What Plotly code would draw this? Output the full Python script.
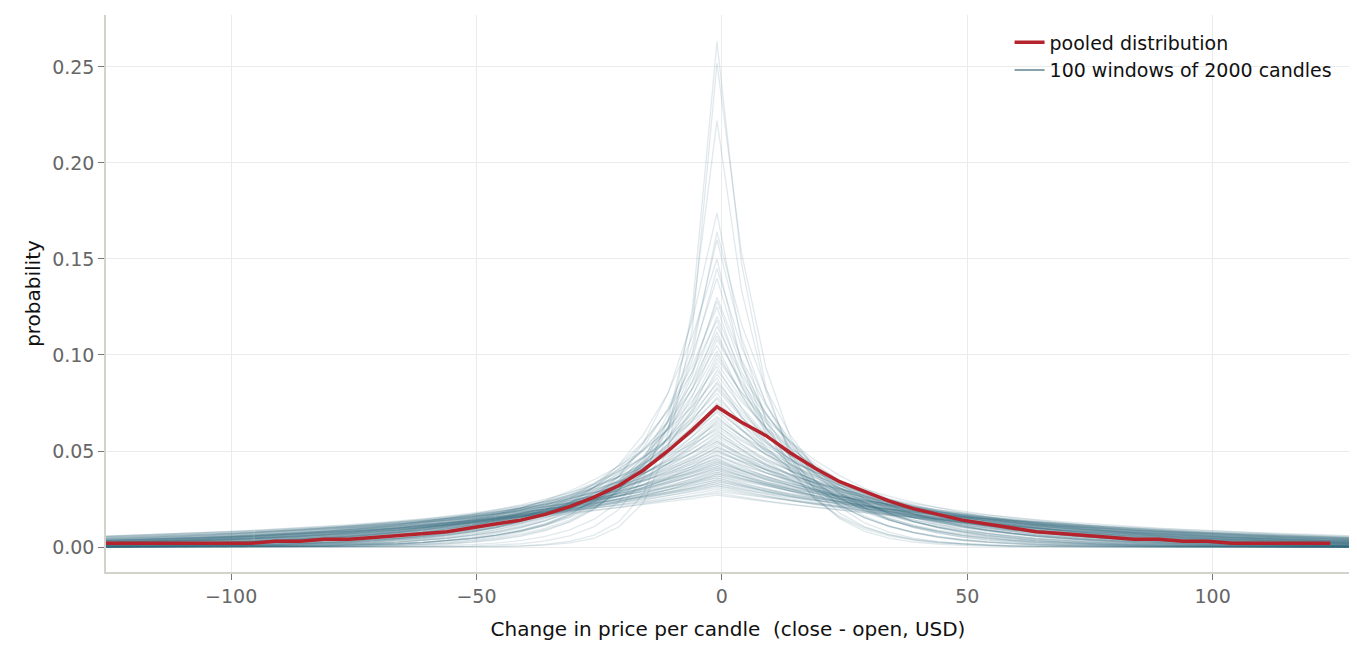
import numpy as np
import plotly.graph_objects as go

# bin centres (USD)
bins = list(range(-126, 130, 5))

# pooled distribution (one value per bin, peak at -1)
pooled = [0.002, 0.002, 0.002, 0.002, 0.002, 0.002, 0.002, 0.003, 0.003, 0.004,
          0.004, 0.005, 0.006, 0.007, 0.008, 0.010, 0.012, 0.014, 0.017, 0.021,
          0.026, 0.032, 0.040, 0.050, 0.061, 0.073, 0.065, 0.058, 0.049, 0.041,
          0.034, 0.029, 0.024, 0.020, 0.017, 0.014, 0.012, 0.010, 0.008, 0.007,
          0.006, 0.005, 0.004, 0.004, 0.003, 0.003, 0.002, 0.002, 0.002, 0.002, 0.002]

# peak height of each of the 100 windows (estimated)
window_peaks = [0.263, 0.252, 0.222, 0.174, 0.164, 0.160, 0.150, 0.145, 0.140, 0.130,
                0.128, 0.125, 0.120, 0.118, 0.115, 0.112, 0.110, 0.108, 0.105, 0.102,
                0.100, 0.098, 0.096, 0.094, 0.092, 0.090, 0.088, 0.086, 0.085, 0.083,
                0.082, 0.080, 0.078, 0.077, 0.075, 0.074, 0.072, 0.071, 0.070, 0.068,
                0.067, 0.066, 0.065, 0.064, 0.063, 0.062, 0.061, 0.060, 0.059, 0.058,
                0.057, 0.056, 0.055, 0.055, 0.054, 0.053, 0.052, 0.052, 0.051, 0.050,
                0.050, 0.049, 0.048, 0.048, 0.047, 0.046, 0.046, 0.045, 0.045, 0.044,
                0.044, 0.043, 0.043, 0.042, 0.042, 0.041, 0.041, 0.040, 0.040, 0.039,
                0.039, 0.038, 0.038, 0.037, 0.037, 0.036, 0.036, 0.035, 0.035, 0.034,
                0.034, 0.033, 0.033, 0.032, 0.032, 0.031, 0.030, 0.029, 0.028, 0.027]
# right/left width ratio of each window, estimated
window_skew = [1.3, 1.6, 1.2, 0.8, 1.4, 1.1, 0.7, 1.2, 0.9, 1.3,
               1.1, 0.8, 1.2, 0.75, 1.3, 0.9, 1.1, 1.4, 0.85, 1.0] * 5

x = np.array(bins, dtype=float)
fig = go.Figure()
for pk, sk in zip(window_peaks, window_skew):
    sc = 2.0 / pk
    d = np.abs(x + 1)
    y = pk * np.where(x < -1, np.exp(-d / (sc / np.sqrt(sk))), np.exp(-d / (sc * np.sqrt(sk))))
    fig.add_trace(go.Scatter(x=bins, y=y, mode="lines",
                             line=dict(color="rgba(55,105,125,0.15)", width=1.3),
                             showlegend=False, hoverinfo="skip"))
fig.add_trace(go.Scatter(x=[None], y=[None], mode="lines",
                         line=dict(color="#87a3ab", width=2),
                         name="100 windows of 2000 candles"))
fig.add_trace(go.Scatter(x=bins, y=pooled, mode="lines",
                         line=dict(color="#b5232d", width=3.5),
                         name="pooled distribution"))

axis_style = dict(showgrid=True, gridcolor="#ebebeb", zeroline=False,
                  showline=True, linecolor="#d3d3cc", linewidth=1.5,
                  ticks="outside", tickcolor="#777", ticklen=6,
                  tickfont=dict(color="#666", size=19))

fig.update_layout(
    width=1357, height=651,
    plot_bgcolor="white", paper_bgcolor="white",
    margin=dict(l=98, r=15, t=7, b=87),
    font=dict(family="DejaVu Sans", size=19, color="#111"),
    legend=dict(x=0.99, y=0.985, xanchor="right", yanchor="top",
                bgcolor="rgba(255,255,255,0)", traceorder="reversed",
                font=dict(size=19)),
)
fig.update_xaxes(range=[-125.5, 128], tickvals=[-100, -50, 0, 50, 100],
                 ticktext=["−100", "−50", "0", "50", "100"],
                 title=dict(text="Change in price per candle  (close - open, USD)",
                            font=dict(size=20), standoff=16), **axis_style)
fig.update_yaxes(range=[-0.013, 0.277], tickvals=[0, 0.05, 0.1, 0.15, 0.2, 0.25],
                 tickformat=".2f",
                 title=dict(text="probability", font=dict(size=20), standoff=6), **axis_style)
fig.write_html("out.html")
